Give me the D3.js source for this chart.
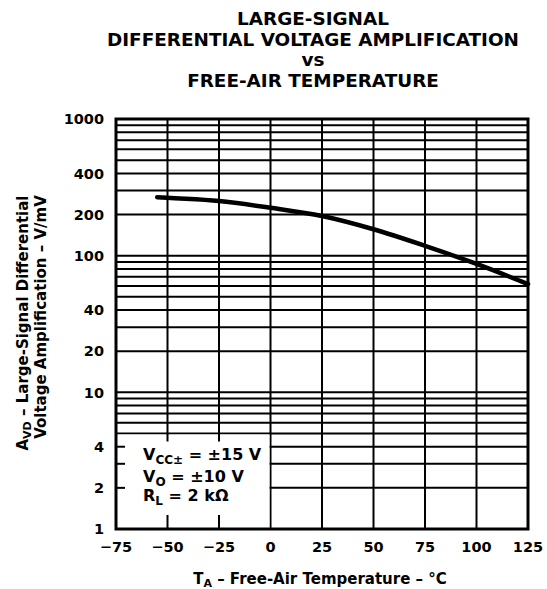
<!DOCTYPE html>
<html>
<head>
<meta charset="utf-8">
<script src="https://cdn.jsdelivr.net/npm/d3@7"></script>
<style>
html,body{margin:0;padding:0;background:#fff;}
svg{display:block;font-family:"DejaVu Sans",sans-serif;font-weight:bold;}
</style>
</head>
<body>
<svg id="chart" width="547" height="589"></svg>
<script>
// Data
const temperature = [-55, -50, -25, 0, 25, 50, 75, 100, 125];
const gain = [268, 265, 251, 224, 195, 156, 118, 87, 62];
const xTicks = [-75, -50, -25, 0, 25, 50, 75, 100, 125];
const yTickLabels = [1, 2, 4, 10, 20, 40, 100, 200, 400, 1000];
const titleLines = ["LARGE-SIGNAL", "DIFFERENTIAL VOLTAGE AMPLIFICATION", "vs", "FREE-AIR TEMPERATURE"];

const svg = d3.select("#chart");
const L = 116, R = 528, T = 119, B = 529;
const x = d3.scaleLinear().domain([-75, 125]).range([L, R]);
const y = d3.scaleLog().domain([1, 1000]).range([B, T]);

// minor grid values
const yGrid = [];
[1, 10, 100].forEach(d => { for (let k = 1; k <= 9; k++) yGrid.push(d * k); });
yGrid.push(1000);

const g = svg.append("g");

// horizontal grid
g.selectAll("line.h").data(yGrid).join("line")
  .attr("x1", L).attr("x2", R)
  .attr("y1", d => y(d)).attr("y2", d => y(d))
  .attr("stroke", "#000").attr("stroke-width", 2);

// vertical grid
g.selectAll("line.v").data(xTicks).join("line")
  .attr("x1", d => x(d)).attr("x2", d => x(d))
  .attr("y1", T).attr("y2", B)
  .attr("stroke", "#000").attr("stroke-width", 2);

// legend box (covers grid)
const boxTop = y(5), boxRight = x(0);
g.append("rect").attr("x", L).attr("y", boxTop + 1)
  .attr("width", boxRight - L - 1).attr("height", B - boxTop - 1)
  .attr("fill", "#fff");
// tick stubs inside box
[4, 3, 2].forEach(v => {
  g.append("line").attr("x1", L).attr("x2", L + 9)
    .attr("y1", y(v)).attr("y2", y(v)).attr("stroke", "#000").attr("stroke-width", 2);
});
[-50, -25].forEach(v => {
  g.append("line").attr("x1", x(v)).attr("x2", x(v))
    .attr("y1", boxTop).attr("y2", boxTop + 8).attr("stroke", "#000").attr("stroke-width", 2);
  g.append("line").attr("x1", x(v)).attr("x2", x(v))
    .attr("y1", B - 14).attr("y2", B).attr("stroke", "#000").attr("stroke-width", 2);
});

// border
g.append("rect").attr("x", L).attr("y", T).attr("width", R - L).attr("height", B - T)
  .attr("fill", "none").attr("stroke", "#000").attr("stroke-width", 3);

// curve
const line = d3.line().x((d, i) => x(temperature[i])).y(d => y(d)).curve(d3.curveMonotoneX);
svg.append("path").datum(gain).attr("d", line)
  .attr("fill", "none").attr("stroke", "#000").attr("stroke-width", 4.5).attr("stroke-linecap", "round");

// y axis labels
svg.append("g").selectAll("text").data(yTickLabels).join("text")
  .attr("x", L - 12).attr("y", d => y(d)).attr("dy", "0.36em")
  .attr("text-anchor", "end").attr("font-size", 14.5).text(d => d);

// x axis labels
svg.append("g").selectAll("text").data(xTicks).join("text")
  .attr("x", d => x(d)).attr("y", 552)
  .attr("text-anchor", "middle").attr("font-size", 14.5)
  .text(d => d < 0 ? "\u2212" + Math.abs(d) : d);

// title
svg.append("g").selectAll("text").data(titleLines).join("text")
  .attr("x", 313).attr("y", (d, i) => [25, 46, 66, 87][i])
  .attr("text-anchor", "middle").attr("font-size", 18.4).text(d => d);

// x title
const xt = svg.append("text").attr("x", 320).attr("y", 584).attr("text-anchor", "middle").attr("font-size", 15);
xt.append("tspan").text("T");
xt.append("tspan").attr("font-size", 11).attr("dy", 3).text("A");
xt.append("tspan").attr("dy", -3).text(" \u2013 Free-Air Temperature \u2013 \u00B0C");

// y title
const yt1 = svg.append("text").attr("transform", "translate(28,323) rotate(-90)").attr("text-anchor", "middle").attr("font-size", 15);
yt1.append("tspan").text("A");
yt1.append("tspan").attr("font-size", 11).attr("dy", 3).text("VD");
yt1.append("tspan").attr("dy", -3).text(" \u2013 Large-Signal Differential");
svg.append("text").attr("transform", "translate(46,317) rotate(-90)").attr("text-anchor", "middle").attr("font-size", 15)
  .text("Voltage Amplification \u2013 V/mV");

// legend text
const leg = svg.append("g").attr("font-size", 16);
function legLine(yb, main, sub, rest) {
  const t = leg.append("text").attr("x", 143).attr("y", yb);
  t.append("tspan").text(main);
  t.append("tspan").attr("font-size", 12).attr("dy", 4).text(sub);
  t.append("tspan").attr("dy", -4).text(rest);
}
legLine(460, "V", "CC\u00B1", " = \u00B115 V");
legLine(482, "V", "O", " = \u00B110 V");
legLine(501, "R", "L", " = 2 k\u03A9");
</script>
</body>
</html>
